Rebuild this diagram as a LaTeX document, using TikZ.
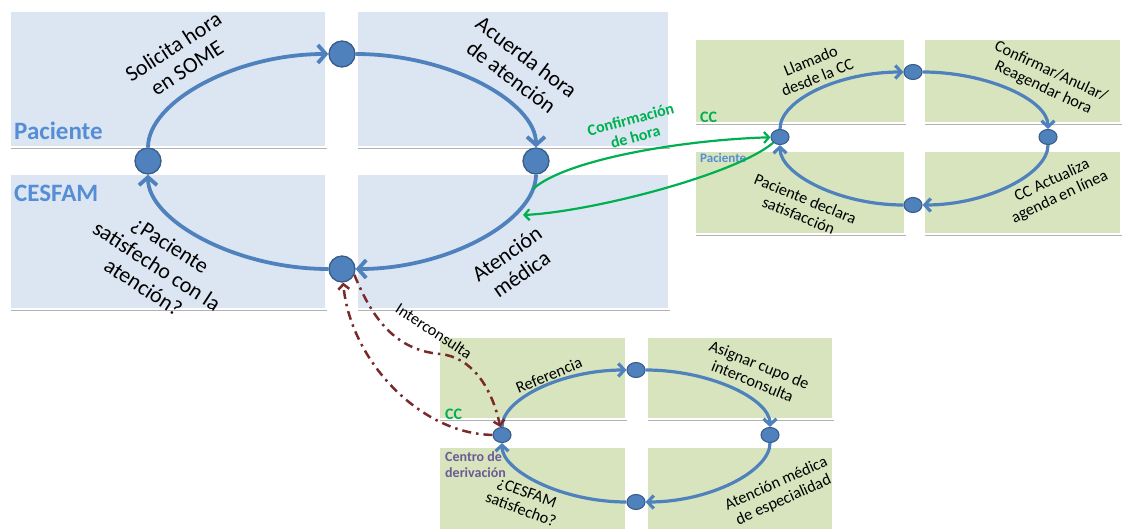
\documentclass[tikz,border=0pt]{standalone}
\usepackage{fontspec}
\setmainfont{Carlito}
\usetikzlibrary{arrows.meta,shapes.geometric,shadows}

\definecolor{panelblue}{HTML}{DCE6F2}
\definecolor{panelgreen}{HTML}{D7E4BD}
\definecolor{flowblue}{HTML}{4F81BD}
\definecolor{nodeedge}{HTML}{385D8A}
\definecolor{tagblue}{HTML}{558ED5}
\definecolor{tagpurple}{HTML}{6B5A93}
\definecolor{okgreen}{HTML}{00B050}
\definecolor{referral}{HTML}{7A2A2A}

\tikzset{
  panel/.style={fill=#1, draw=white, line width=2pt,
    drop shadow={shadow xshift=1.2pt, shadow yshift=-2pt, opacity=0.3, fill=black}},
  bigdot/.style={circle, fill=flowblue, draw=nodeedge, line width=1.3pt,
    minimum size=26pt, inner sep=0pt},
  smalldot/.style={ellipse, fill=flowblue, draw=nodeedge, line width=1.1pt,
    minimum width=18pt, minimum height=15pt, inner sep=0pt},
  bigflow/.style={draw=flowblue, line width=3.8pt,
    -{Straight Barb[length=8pt,width=18pt]}},
  smallflow/.style={draw=flowblue, line width=3.2pt,
    -{Straight Barb[length=6pt,width=13pt]}},
  bigtxt/.style={font=\fontsize{22}{25}\selectfont, align=center, inner sep=0pt},
  smalltxt/.style={font=\fontsize{16.3}{18}\selectfont, align=center, inner sep=0pt},
  confirm/.style={draw=okgreen, line width=2.2pt,
    -{Straight Barb[length=5pt,width=11pt]}},
  referral/.style={draw=referral, line width=2.5pt,
    dash pattern=on 9pt off 5pt on 2.5pt off 5pt,
    -{Straight Barb[length=5pt,width=11pt]}},
  tag/.style={font=\bfseries\fontsize{#1}{#1}\selectfont, anchor=west, inner sep=0pt},
}

\begin{document}
\begin{tikzpicture}[x=1pt,y=-1pt]
\useasboundingbox (0,0) rectangle (1122,529);

% CESFAM / patient quadrants
\path[panel=panelblue] (10,11) rectangle (326,147);
\path[panel=panelblue] (357,11) rectangle (669,147);
\path[panel=panelblue] (10,174) rectangle (326,309);
\path[panel=panelblue] (357,174) rectangle (669,309);

% call centre quadrants
\path[panel=panelgreen] (695,39) rectangle (905,123);
\path[panel=panelgreen] (924,39) rectangle (1121,123);
\path[panel=panelgreen] (695,151) rectangle (905,234);
\path[panel=panelgreen] (924,151) rectangle (1121,234);

% referral centre quadrants
\path[panel=panelgreen] (439,337) rectangle (626,419);
\path[panel=panelgreen] (647,337) rectangle (833,419);
\path[panel=panelgreen] (439,447) rectangle (626,535);
\path[panel=panelgreen] (647,447) rectangle (833,535);

% main cycle
\node[bigdot] (mT) at (342,54) {};
\node[bigdot] (mL) at (148,161) {};
\node[bigdot] (mR) at (536,161) {};
\node[bigdot] (mB) at (342,269) {};
\draw[bigflow] (mL) .. controls +(0,-59) and +(-107,0) .. (mT);
\draw[bigflow] (mT) .. controls +(107,0) and +(0,-59) .. (mR);
\draw[bigflow] (mR) .. controls +(0,59) and +(107,0) .. (mB);
\draw[bigflow] (mB) .. controls +(-107,0) and +(0,59) .. (mL);

\node[bigtxt, rotate=33] (tSol) at (180,57) {Solicita hora\\en SOME};
\node[bigtxt, rotate=-37] (tAcu) at (519,67) {Acuerda hora\\de atención};
\node[bigtxt, rotate=35] (tAte) at (514,264) {Atención\\médica};
\node[bigtxt, rotate=-33] (tSat) at (157,266) {¿Paciente\\satisfecho con la\\atención?};

\node[tag=25, text=tagblue] (tagPac) at (14,131) {Paciente};
\node[tag=25, text=tagblue] (tagCes) at (14,193) {CESFAM};

% call centre cycle
\node[smalldot] (cT) at (913,72) {};
\node[smalldot] (cL) at (780,137) {};
\node[smalldot] (cR) at (1048,137) {};
\node[smalldot] (cB) at (913,205) {};
\draw[smallflow] (cL) .. controls +(0,-37) and +(-74,0) .. (cT);
\draw[smallflow] (cT) .. controls +(74,0) and +(0,-37) .. (cR);
\draw[smallflow] (cR) .. controls +(0,37) and +(74,0) .. (cB);
\draw[smallflow] (cB) .. controls +(-74,0) and +(0,37) .. (cL);

\node[smalltxt, rotate=22] (tLla) at (814,69) {Llamado\\desde la CC};
\node[smalltxt, rotate=-25] (tCon) at (1047,80) {Confirmar/Anular/\\Reagendar hora};
\node[smalltxt, rotate=25] (tAct) at (1056,189) {CC Actualiza\\agenda en línea};
\node[smalltxt, rotate=-22] (tDec) at (802,207) {Paciente declara\\satisfacción};

\node[tag=16, text=okgreen] (tagCC1) at (700,117) {CC};
\node[tag=13, text=tagblue] (tagPac2) at (700,158) {Paciente};

% referral centre cycle
\node[smalldot] (bT) at (636,370) {};
\node[smalldot] (bL) at (502,435) {};
\node[smalldot] (bR) at (770,435) {};
\node[smalldot] (bB) at (636,502) {};
\draw[smallflow] (bL) .. controls +(0,-36) and +(-74,0) .. (bT);
\draw[smallflow] (bT) .. controls +(74,0) and +(0,-36) .. (bR);
\draw[smallflow] (bR) .. controls +(0,36) and +(74,0) .. (bB);
\draw[smallflow] (bB) .. controls +(-74,0) and +(0,36) .. (bL);

\node[smalltxt, rotate=22] (tRef) at (549,375) {Referencia};
\node[smalltxt, rotate=-22] (tAsi) at (756,373) {Asignar cupo de\\interconsulta};
\node[smalltxt, rotate=24] (tEsp) at (780,492) {Atención médica\\de especialidad};
\node[smalltxt, rotate=-20] (tCes) at (524,501) {¿CESFAM\\satisfecho?};

\node[tag=16, text=okgreen] (tagCC2) at (445,414) {CC};
\node[tag=14, text=tagpurple, align=left, font=\bfseries\fontsize{14}{16}\selectfont]
  (tagDer) at (445,465) {Centro de\\derivación};

% appointment confirmation between CESFAM and call centre
\coordinate (gA) at (533,189);
\coordinate (gB) at (523,215);
\draw[confirm] (gA) .. controls (565,160) and (680,140) .. (cL);
\draw[confirm] (cL) .. controls (735,175) and (590,212) .. (gB);
\node[font=\bfseries\fontsize{16}{18}\selectfont, text=okgreen, align=center,
  inner sep=0pt, rotate=15] (tConf) at (633,128) {Confirmación\\de hora};

% referral to the specialist centre and back
\draw[referral] (mB.-25) .. controls (372,318) and (395,350) .. (440,354)
  .. controls (472,357) and (492,388) .. (bL);
\draw[referral] (bL) .. controls (420,434) and (350,360) .. (mB);
\node[smalltxt, rotate=-33] (tInt) at (434,331) {Interconsulta};

\end{tikzpicture}
\end{document}
